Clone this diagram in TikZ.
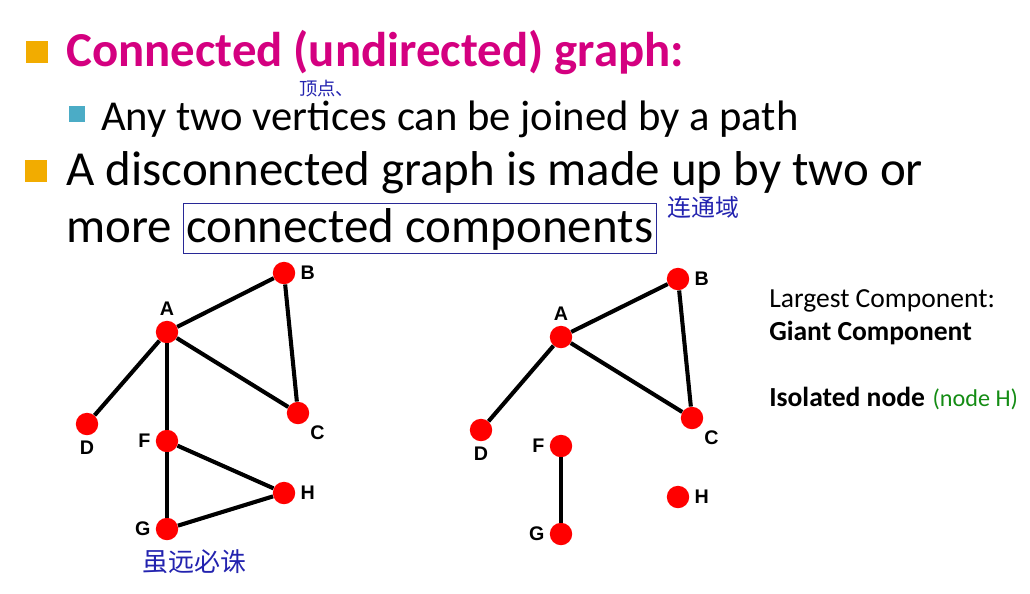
\documentclass[tikz,border=0pt]{standalone}
\usepackage{fontspec}
\setmainfont{Carlito}
\newfontfamily\lblfont{Liberation Sans}
\newfontfamily\cjk{Noto Sans CJK SC}
\usetikzlibrary{positioning}
\usepackage{xcolor}
\definecolor{headpink}{RGB}{212,0,128}
\definecolor{bulorange}{RGB}{242,172,0}
\definecolor{bulteal}{RGB}{75,172,198}
\definecolor{inkblue}{RGB}{35,35,175}
\definecolor{boxblue}{RGB}{40,40,150}
\definecolor{notegreen}{RGB}{20,140,20}

\begin{document}
\begin{tikzpicture}[
  x=0.025cm, y=-0.025cm,
  every node/.style={inner sep=0pt, anchor=base west},
  bullet/.style={rectangle, minimum size=#1, anchor=center},
  vtx/.style   ={circle, fill=red, minimum size=0.56cm, inner sep=0pt, anchor=center},
  lbl/.style   ={font=\lblfont\bfseries\fontsize{14}{16}\selectfont, inner sep=1pt},
  note/.style  ={font=\cjk\fontsize{#1}{#1}\selectfont, text=inkblue},
  edge/.style  ={line width=2.9pt},
  label distance=2.5pt
]
\useasboundingbox (0,0) rectangle (1030,593);

% bullet points
\node[bullet=15, fill=bulorange] (b1) at (37,52) {};
\node[font=\bfseries\fontsize{34.7}{40}\selectfont, text=headpink] (head) at (66,66)
  {Connected (undirected) graph:};
\node[bullet=12, fill=bulteal] (b2) at (77,114) {};
\node[font=\fontsize{30.3}{36}\selectfont] (any) at (101,130)
  {Any two vertices can be joined by a path};
\node[bullet=15, fill=bulorange] (b3) at (36,171) {};
\node[font=\fontsize{34.8}{40}\selectfont] (dis) at (66,185)
  {A disconnected graph is made up by two or};
\node[font=\fontsize{34.8}{40}\selectfont] (more) at (66,242) {more};
\node[font=\fontsize{34.8}{40}\selectfont, draw=boxblue, thin, inner xsep=2pt,
      inner ysep=0pt, text depth=7.8pt, text height=27.7pt] (cc) at (183,242)
  {connected components};

% handwritten notes
\node[note=13] (n1) at (299,95) {顶点、};
\node[note=17] (n2) at (667,216) {连通域};
\node[note=18.5] (n3) at (142,571) {虽远必诛};

% connected graph
\node[vtx, label={[lbl]above:A}]       (A1) at (167,332) {};
\node[vtx, label={[lbl]right:B}]       (B1) at (284,273) {};
\node[vtx, label={[lbl]below right:C}] (C1) at (298,413) {};
\node[vtx, label={[lbl]below:D}]       (D1) at (87,424)  {};
\node[vtx, label={[lbl]left:F}]        (F1) at (167,441) {};
\node[vtx, label={[lbl]left:G}]        (G1) at (167,529) {};
\node[vtx, label={[lbl]right:H}]       (H1) at (284,493) {};

\foreach \a/\b in {A1/B1, B1/C1, A1/C1, A1/D1, A1/F1, F1/G1, F1/H1, G1/H1}
  \draw[edge] (\a) -- (\b);

% disconnected graph
\node[vtx, label={[lbl]above:A}]       (A2) at (561,337) {};
\node[vtx, label={[lbl]right:B}]       (B2) at (678,279) {};
\node[vtx, label={[lbl]below right:C}] (C2) at (692,418) {};
\node[vtx, label={[lbl]below:D}]       (D2) at (481,430) {};
\node[vtx, label={[lbl]left:F}]        (F2) at (561,446) {};
\node[vtx, label={[lbl]left:G}]        (G2) at (561,534) {};
\node[vtx, label={[lbl]right:H}]       (H2) at (678,497) {};

\foreach \a/\b in {A2/B2, B2/C2, A2/C2, A2/D2, F2/G2}
  \draw[edge] (\a) -- (\b);

% remarks
\node[font=\fontsize{19.6}{22}\selectfont] (lc) at (769,307) {Largest Component:};
\node[font=\bfseries\fontsize{19.6}{22}\selectfont] (gc) at (769,340) {Giant Component};
\node[font=\bfseries\fontsize{19.6}{22}\selectfont] (iso) at (769,406) {Isolated node};
\node[font=\fontsize{17.2}{20}\selectfont, text=notegreen, right=5pt of iso.base east, anchor=base west]
  (nh) {(node H)};

\end{tikzpicture}
\end{document}
